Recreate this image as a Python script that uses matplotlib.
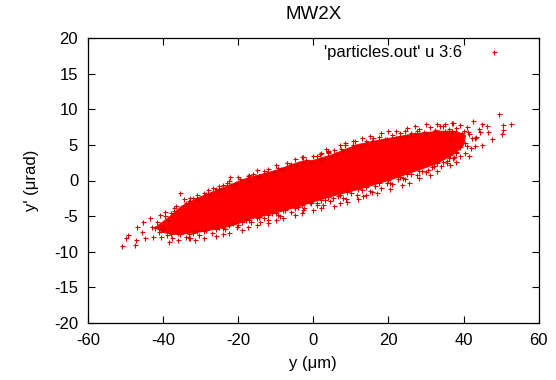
import matplotlib
matplotlib.use('Agg')
import matplotlib.pyplot as plt

plt.rcParams['font.family'] = ['Liberation Sans', 'DejaVu Sans']
plt.rcParams['axes.unicode_minus'] = False

# dense core of the particle cloud (outline, y in um, y' in urad)
core_y = [-42, -38, -35, -30, -22, -17.7, -10, -3.6, 0, 5, 11.6, 18, 26.5, 33, 38, 40.5,
          40, 38, 33, 26.5, 20, 11.6, 5, 0, -3.6, -9, -16, -22, -30, -36, -40]
core_yp = [-6.6, -5.0, -3.6, -2.3, -0.6, 0.3, 1.4, 2.6, 2.8, 3.6, 5.0, 5.7, 6.5, 6.9, 6.9, 6.3,
           5.0, 3.9, 2.4, 1.2, 0.0, -1.3, -2.2, -3.0, -3.6, -4.4, -5.3, -6.4, -7.2, -7.6, -7.3]

# individual particles around the edge of the core
edge_y = [-38, -36.5, -34, -32, -30.5, -29, -27.5, -26, -24.5, -23, -21, -19.5, -18, -16, -14.5,
          -13, -11, -9.5, -8, -6, -4.5, -2, -0.5, 1, 2.5, 4, 6, 7.5, 9, 10.5, 12.5, 14, 16, 17.5,
          19.5, 21, 23, 24.5, 26, 28, 29.5, 31, 32.5, 34.5, 36, 38, 40, 41.5, 43,
          42, 40.5, 39, 37.5, 35.5, 34, 32, 30.5, 29, 27.5, 26, 24.5, 22.5, 21, 19.5, 18, 16.5,
          15, 13, 11.5, 10, 8, 6.5, 4.5, 3, 1, -0.5, -2.5, -4, -6, -7.5, -9.5, -11, -13, -14.5,
          -16.5, -18, -20, -21.5, -23.5, -25, -27, -28.5, -30.5, -32, -34, -35.5, -37.5, -39,
          -41, -42]
edge_yp = [-4.6, -3.6, -3.2, -2.4, -2.9, -1.7, -2.0, -1.2, -1.4, -0.4, -0.7, 0.2, -0.1, 0.9, 0.6,
           1.3, 0.9, 1.8, 1.5, 2.3, 2.0, 2.9, 2.5, 3.4, 3.0, 3.9, 3.7, 4.4, 4.1, 5.0, 4.8, 5.6, 5.3,
           6.1, 5.8, 6.4, 6.2, 7.0, 6.6, 7.2, 6.8, 7.5, 7.1, 7.6, 7.2, 7.4, 7.0, 6.5, 6.0,
           4.6, 3.9, 3.4, 3.3, 2.8, 2.1, 2.1, 1.5, 1.4, 0.8, 0.9, 0.2, 0.2, -0.5, -0.3, -1.0, -0.8,
           -1.5, -1.3, -2.0, -1.7, -2.4, -2.2, -2.9, -2.7, -3.4, -3.2, -3.9, -3.7, -4.4, -4.2,
           -4.9, -4.6, -5.3, -5.1, -5.8, -5.5, -6.3, -6.0, -6.8, -6.5, -7.3, -6.9, -7.6, -7.3,
           -7.9, -7.5, -8.0, -7.7, -7.2, -6.6]

# a second, looser band just outside the core
halo_y = [-37, -34.5, -31, -28, -25, -22.5, -20, -17, -15, -12, -10, -7, -5, -3, 0, 2, 3.5,
          5.5, 7, 8.5, 11, 13, 15, 18, 20, 22, 25, 27, 30, 33, 35, 39, 41, 44,
          43, 41.5, 38, 36.5, 33, 31, 28, 25.5, 23.5, 20.5, 17, 14, 12, 9, 7, 5.5, 2, 0, -3, -5,
          -8, -10, -12, -15, -17.5, -19, -22.5, -24, -26, -29, -31.5, -33, -36, -38.5]
halo_yp = [-3.9, -2.6, -2.0, -1.3, -0.8, 0.0, 0.5, 0.8, 1.5, 1.6, 2.2, 2.4, 3.0, 3.3, 3.5, 3.9,
           4.4, 4.3, 5.0, 5.2, 5.6, 6.0, 6.2, 6.6, 6.9, 7.0, 7.4, 7.6, 7.9, 8.0, 7.9, 7.8, 7.5, 7.2,
           4.8, 3.4, 2.6, 2.2, 1.4, 0.8, 0.3, -0.4, -0.6, -1.2, -1.7, -2.1, -2.6, -3.0, -3.2, -3.6,
           -3.9, -4.2, -4.6, -4.9, -5.3, -5.5, -5.9, -6.2, -6.5, -6.9, -7.3, -7.5, -7.8, -8.0,
           -8.3, -8.0, -8.4, -8.6]

# particles sitting right on the core boundary
rim_y = [-39.5, -37, -33, -31, -28.5, -25.5, -22, -20.5, -17, -15, -12.5, -10.5, -8.5, -5, -3,
         -1, 2, 5, 8, 11, 13.5, 15.5, 19, 22, 25, 27, 30, 33.5, 35, 37, 39.5,
         41, 38, 36, 33, 31.5, 28, 25, 23, 20, 17.5, 14, 12, 9, 7, 4, 2, -1, -3, -5, -8, -10,
         -12, -15, -17, -19, -22.5, -24, -26, -29, -31, -33, -36, -38, -40.5]
rim_yp = [-5.0, -4.3, -2.9, -2.4, -1.9, -1.3, -0.7, -0.3, 0.0, 0.5, 0.9, 1.2, 1.6, 2.1, 2.4,
          2.6, 3.0, 3.5, 4.1, 4.7, 5.0, 5.5, 5.8, 6.0, 6.3, 6.5, 6.7, 6.8, 6.9, 6.9, 6.7,
          4.9, 3.8, 3.2, 2.5, 1.9, 1.4, 0.9, 0.5, 0.1, -0.4, -0.9, -1.2, -1.6, -2.0, -2.3, -2.8,
          -3.0, -3.4, -3.8, -4.2, -4.6, -4.9, -5.2, -5.5, -5.8, -6.3, -6.6, -6.8, -7.1, -7.1,
          -7.5, -7.4, -7.5, -7.0]

# isolated particles in the tails
out_y = [-50.8, -49.9, -49.4, -47.5, -47.2, -47.0, -45.7, -44.8, -45.4, -43.5, -42.7, -43.0,
         -41.7, -40.8, -40.4, -40.0, -38.7, -39.5,
         49.4, 52.7, 50.4, 50.4, 50.1, 47.5, 44.8, 42.4, 46.1, 46.4, 44.3, 43.4, 44.8, 37.1,
         41.1, 42.1, 40.3, 38.1, 36.3, 34.5, 39.0, 36.3,
         -22.2, -26.7, -24.1, -35.5, -32.9, -7.1, -2.8, 1.7, 3.9, -17.4, -12.4,
         -32.9, -20.4, -14.2, -12.0, -8.9, -2.7, 2.6, 8.8, -32.0, -25.8,
         10.6, 8.4, 3.9, 15.9, 23.0, 27.5, 33.7, 37.0, -2.7,
         13.3, 15.5, 20.4, 23.9, 30.1, 35.5, 37.2, 0.9, 5.3]
out_yp = [-9.2, -8.0, -7.6, -9.1, -8.4, -6.5, -7.2, -8.1, -5.8, -5.3, -7.9, -6.5,
          -5.8, -4.8, -7.9, -6.7, -5.5, -4.4,
          9.3, 7.9, 7.8, 7.1, 6.5, 5.8, 7.9, 8.4, 7.6, 6.8, 6.8, 6.1, 5.0, 8.1,
          6.8, 5.9, 5.2, 4.0, 3.6, 2.6, 4.7, 5.7,
          0.5, -1.0, -0.6, -1.8, -2.5, 2.5, 3.3, 3.7, 4.0, 0.6, 1.0,
          -8.1, -6.5, -5.8, -5.5, -5.0, -4.1, -3.4, -2.6, -6.9, -6.2,
          5.6, 5.0, 4.2, 5.9, 6.6, 7.0, 7.6, 8.1, 3.3,
          -2.2, -1.6, -0.3, 0.3, 1.2, 2.4, 3.1, -3.2, -2.5]

x_ticks = [-60, -40, -20, 0, 20, 40, 60]
y_ticks = [-20, -15, -10, -5, 0, 5, 10, 15, 20]

fig = plt.figure(figsize=(5.56, 3.8), dpi=100)
ax = fig.add_axes([0.158, 0.15, 0.811, 0.75])

ax.fill(core_y, core_yp, color='#ff0000', lw=0.8, zorder=2)
pts_y = edge_y + halo_y + rim_y + out_y
pts_yp = edge_yp + halo_yp + rim_yp + out_yp
ax.plot(pts_y, pts_yp, '+', color='#e00000', ms=3.6, mew=0.8, zorder=3,
        label="'particles.out' u 3:6")

ax.set_xlim(-60, 60)
ax.set_ylim(-20, 20)
ax.set_xticks(x_ticks)
ax.set_yticks(y_ticks)
ax.tick_params(direction='in', length=5, width=0.8, top=True, right=True,
               labelsize=12, pad=7)
for s in ax.spines.values():
    s.set_linewidth(0.9)

ax.set_title('MW2X', fontsize=13.5, pad=14)
ax.set_xlabel('y (\u03bcm)', fontsize=12, labelpad=6)
ax.set_ylabel("y' (\u03bcrad)", fontsize=12, labelpad=11)

ax.legend(loc='upper right', bbox_to_anchor=(0.955, 1.015), frameon=False,
          markerfirst=False, fontsize=12, handlelength=1.5, borderaxespad=0.3,
          handletextpad=1.2)

fig.savefig('out.png', dpi=100)
